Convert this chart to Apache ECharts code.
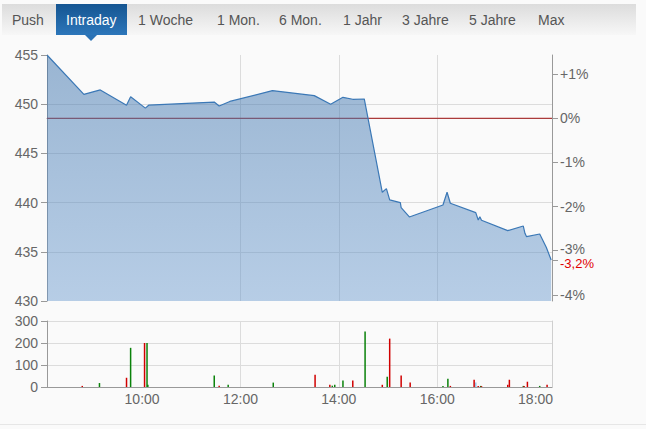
<!DOCTYPE html>
<html><head><meta charset="utf-8">
<script src="https://cdn.jsdelivr.net/npm/echarts@6/dist/echarts.min.js"></script>
<style>html,body{margin:0;padding:0;background:#fafafa;}#c{width:646px;height:429px;}</style>
</head><body><div id="c"></div>
<script>
// ---- data ----
const tabLabels = ['Push','Intraday','1 Woche','1 Mon.','6 Mon.','1 Jahr','3 Jahre','5 Jahre','Max'];
const activeTab = 'Intraday';
const priceTimes = ['08:04','08:49','09:09','09:41','09:46','10:04','10:08','11:28','11:34','11:47','12:39','13:30','13:50','14:05','14:17','14:31','14:53','14:58','15:02','15:15','15:16','15:26','16:07','16:12','16:16','16:47','16:50','16:52','16:54','17:26','17:45','17:47','17:49','18:05','18:13','18:19'];
const priceValues = [455.0,451.0,451.45,449.9,450.75,449.6,449.9,450.22,449.82,450.28,451.38,450.87,449.99,450.70,450.50,450.53,441.05,441.42,440.27,440.0,439.48,438.54,439.76,441.05,439.93,438.98,438.23,438.57,438.20,437.15,437.62,436.88,436.54,436.81,435.46,434.17];
const prevClose = 448.57;
const volTimes = ['08:47','09:08','09:41','09:46','10:03','10:06','10:07','11:28','11:34','11:45','12:40','13:31','13:49','13:52','13:55','14:05','14:17','14:32','14:53','14:59','15:02','15:16','15:27','16:07','16:13','16:16','16:45','16:47','16:50','16:53','16:54','17:26','17:28','17:45','17:46','17:50','18:05','18:14'];
const volValues = [5,18,42,178,200,200,10,52,6,10,20,56,10,6,10,29,29,252,10,47,220,52,20,5,38,5,33,20,5,5,4,10,33,5,5,24,5,10];
const volDirs = ['d','u','d','u','d','u','u','u','d','u','u','d','d','u','u','u','d','u','d','u','d','d','d','u','u','d','d','n','d','u','d','d','d','u','d','d','u','d'];
const sessionStart = '08:04';
const sessionEnd = '18:20';
const timeTicks = ['10:00','12:00','14:00','16:00','18:00'];
const pctTicks = [1,0,-1,-2,-3,-4];

// ---- helpers ----
const toMin = s => { const [h,m] = s.split(':').map(Number); return h*60+m; };
const fmtMin = v => { const h = Math.floor(v/60), m = Math.round(v%60); return String(h).padStart(2,'0')+':'+String(m).padStart(2,'0'); };
const xMin = toMin(sessionStart), xMax = toMin(sessionEnd);
const xTickVals = timeTicks.map(toMin);
const pMin = 430, pMax = 455;
const pctOf = p => (p/prevClose - 1)*100;
const lastPct = pctOf(priceValues[priceValues.length-1]);
const lastPctR = Math.round(lastPct*10)/10;
const dirColor = {u:'#0a820a', d:'#d00000', n:'#9cc3e6'};
const FONT = "'Liberation Sans', Arial, sans-serif";
const lab = {color:'#666', fontSize:14, fontFamily:FONT};

const priceData = priceTimes.map((t,i)=>[toMin(t), priceValues[i]]);
const volData = volTimes.map((t,i)=>({value:[toMin(t), volValues[i]], itemStyle:{color:dirColor[volDirs[i]]}}));

// tab bar graphics
const tabX = [12,66,138,217,279,343,402,469,538];
const tabGraphics = [
  {type:'rect', shape:{x:2,y:4,width:634,height:31}, style:{fill:new echarts.graphic.LinearGradient(0,0,0,1,[{offset:0,color:'#dcdcdc'},{offset:1,color:'#f7f7f7'}])}, silent:true},
];
tabLabels.forEach((t,i)=>{
  if (t === activeTab) {
    tabGraphics.push({type:'rect', shape:{x:56,y:4,width:71,height:31}, style:{fill:new echarts.graphic.LinearGradient(0,0,0,1,[{offset:0,color:'#155591'},{offset:1,color:'#2c76ba'}])}});
    tabGraphics.push({type:'polygon', shape:{points:[[85,35],[97,35],[91,41]]}, style:{fill:'#2a72b5'}});
  }
  tabGraphics.push({type:'text', x:tabX[i], y:20, style:{text:t, fill: t===activeTab?'#fff':'#555', font:'14px '+FONT, verticalAlign:'middle'}});
});
tabGraphics.push({type:'rect', shape:{x:0,y:424,width:646,height:1}, style:{fill:'#e6e6e6'}});

const chart = echarts.init(document.getElementById('c'), null, {renderer:'svg'});
chart.setOption({
  animation:false,
  backgroundColor:'#fafafa',
  graphic: tabGraphics,
  grid:[
    {left:47, right:94, top:55, bottom:128},
    {left:47, right:94, top:321, bottom:42}
  ],
  xAxis:[
    {type:'value', gridIndex:0, min:xMin, max:xMax,
     axisLine:{lineStyle:{color:'#999'}}, axisTick:{show:false, customValues:xTickVals},
     axisLabel:{show:false, customValues:xTickVals},
     splitLine:{show:true, lineStyle:{color:'#dcdcdc'}, showMinLine:false, showMaxLine:false}},
    {type:'value', gridIndex:1, min:xMin, max:xMax,
     axisLine:{lineStyle:{color:'#999'}}, axisTick:{show:false, customValues:xTickVals},
     axisLabel:Object.assign({customValues:xTickVals, formatter:v=>fmtMin(v), margin:5}, lab),
     splitLine:{show:true, lineStyle:{color:'#dcdcdc'}, showMinLine:false, showMaxLine:false}}
  ],
  yAxis:[
    {type:'value', gridIndex:0, min:pMin, max:pMax, interval:5, position:'left',
     axisLine:{show:true, lineStyle:{color:'#999'}}, axisTick:{show:true, length:6, lineStyle:{color:'#999'}},
     axisLabel:Object.assign({margin:9}, lab),
     splitLine:{show:true, lineStyle:{color:'#dcdcdc'}, showMinLine:false, showMaxLine:false}},
    {type:'value', gridIndex:0, min:pctOf(pMin), max:pctOf(pMax), position:'right',
     axisLine:{show:true, lineStyle:{color:'#999'}},
     axisTick:{show:true, length:6, lineStyle:{color:'#999'}, customValues:pctTicks.concat([lastPct])},
     axisLabel:Object.assign({margin:8, customValues:pctTicks.concat([lastPct]),
       formatter:v=>{
         if (Math.abs(v-lastPct)<1e-6) return '{r|'+lastPctR.toFixed(1).replace('.',',')+'%}';
         const s = (v>0?'+':'')+Math.round(v)+'%';
         if (Math.round(v) === -3) return '{u|'+s+'}';
         return s;
       },
       rich:{
         r:{color:'#e00000', fontSize:13, fontFamily:FONT, padding:[8,0,0,0]},
         u:{color:'#666', fontSize:14, fontFamily:FONT, padding:[0,0,4,0]}
       }}, lab),
     splitLine:{show:false}},
    {type:'value', gridIndex:1, min:0, max:300, interval:100, position:'left',
     axisLine:{show:true, lineStyle:{color:'#999'}}, axisTick:{show:true, length:6, lineStyle:{color:'#999'}},
     axisLabel:Object.assign({margin:9}, lab),
     splitLine:{show:true, lineStyle:{color:'#dcdcdc'}, showMinLine:false}},
    {type:'value', gridIndex:1, min:0, max:300, position:'right',
     axisLine:{show:true, lineStyle:{color:'#cfcfcf'}}, axisTick:{show:false}, axisLabel:{show:false}, splitLine:{show:false}}
  ],
  series:[
    {type:'line', xAxisIndex:0, yAxisIndex:0, z:1, symbol:'none', silent:true,
     data:[[xMin,prevClose],[xMax,prevClose]], lineStyle:{color:'#b02020', width:1}},
    {type:'line', xAxisIndex:0, yAxisIndex:0, z:2, symbol:'none', data:priceData,
     lineStyle:{color:'#3b78b6', width:1.2},
     areaStyle:{origin:'start', opacity:1, color:new echarts.graphic.LinearGradient(0,0,0,1,[{offset:0,color:'rgba(57,112,170,0.5)'},{offset:1,color:'rgba(100,150,205,0.45)'}])}},
    {type:'bar', xAxisIndex:1, yAxisIndex:2, barWidth:1.5, data:volData}
  ]
});
</script></body></html>
